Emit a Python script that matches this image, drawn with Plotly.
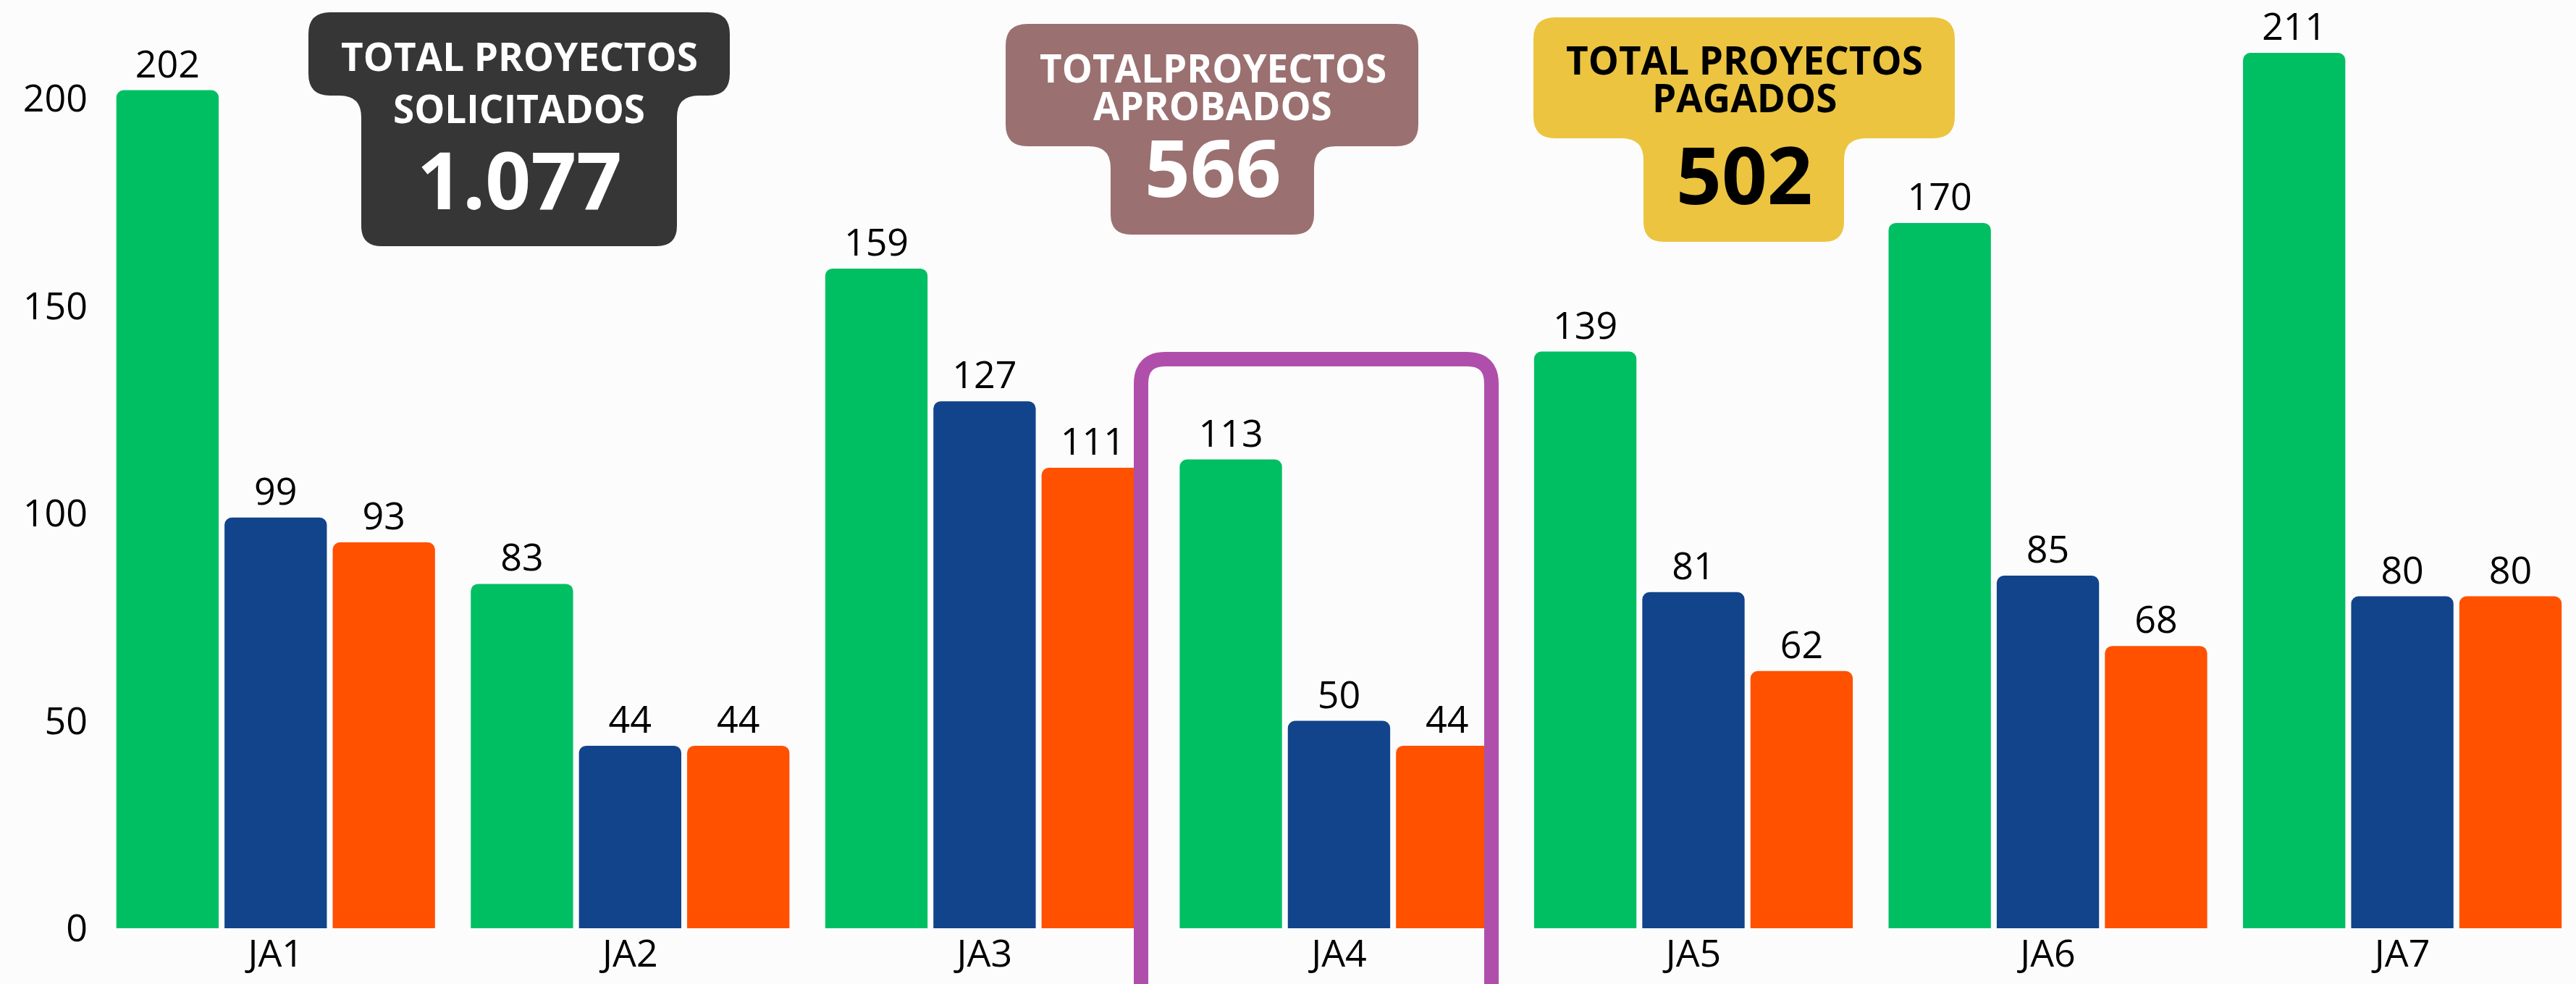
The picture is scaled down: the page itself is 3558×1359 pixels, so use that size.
import plotly.graph_objects as go

# ---------------- data ----------------
categories = ["JA1", "JA2", "JA3", "JA4", "JA5", "JA6", "JA7"]
solicitados = [202, 83, 159, 113, 139, 170, 211]
aprobados = [99, 44, 127, 50, 81, 85, 80]
pagados = [93, 44, 111, 44, 62, 68, 80]
y_ticks = [0, 50, 100, 150, 200]

series_names = ["Solicitados", "Aprobados", "Pagados"]
series_colors = ["#00BF63", "#11448A", "#FF5100"]

W, H = 3558, 1359
L, R, T, B = 136, 3558, 0, 1282
FONT = "Open Sans"


def fmt_thousands(n):
    return f"{n:,}".replace(",", ".")


def px2x(px):
    return (px - L) / (R - L)


def py2y(py):
    return (B - py) / (B - T)


def path_from_px(cmds):
    out = []
    for c in cmds:
        op = c[0]
        pts = c[1:]
        s = op
        s += " ".join(f"{px2x(pts[i]):.5f},{py2y(pts[i+1]):.5f}" for i in range(0, len(pts), 2))
        out.append(s)
    return " ".join(out)


def tee_path(x0, x1, y0, ym, sx0, sx1, y1, r=30, rs=28):
    cmds = [
        ("M", x0 + r, y0),
        ("L", x1 - r, y0), ("Q", x1, y0, x1, y0 + r),
        ("L", x1, ym - r), ("Q", x1, ym, x1 - r, ym),
        ("L", sx1 + r, ym), ("Q", sx1, ym, sx1, ym + r),
        ("L", sx1, y1 - rs), ("Q", sx1, y1, sx1 - rs, y1),
        ("L", sx0 + rs, y1), ("Q", sx0, y1, sx0, y1 - rs),
        ("L", sx0, ym + r), ("Q", sx0, ym, sx0 - r, ym),
        ("L", x0 + r, ym), ("Q", x0, ym, x0, ym - r),
        ("L", x0, y0 + r), ("Q", x0, y0, x0 + r, y0),
    ]
    return path_from_px(cmds) + " Z"


fig = go.Figure()
for name, vals, col in zip(series_names, [solicitados, aprobados, pagados], series_colors):
    fig.add_trace(go.Bar(
        x=categories, y=vals, name=name,
        marker=dict(color=col, cornerradius=10, line=dict(width=0)),
        text=[str(v) for v in vals], textposition="outside",
        textfont=dict(family=FONT, size=52, color="#000000"),
        cliponaxis=False,
    ))

shapes = []
annotations = []

badges = [
    dict(box=(426, 1008, 17, 132, 499, 935, 340), color="#363636", txt="#FFFFFF",
         lines=["TOTAL PROYECTOS", "SOLICITADOS"], ly=[77, 150], total=sum(solicitados), ny=246, cx=717),
    dict(box=(1389, 1959, 33, 202, 1534, 1815, 324), color="#9B7070", txt="#FFFFFF",
         lines=["TOTALPROYECTOS", "APROBADOS"], ly=[93, 145], total=sum(aprobados), ny=229, cx=1675),
    dict(box=(2118, 2700, 24, 191, 2270, 2547, 334), color="#ECC440", txt="#000000",
         lines=["TOTAL PROYECTOS", "PAGADOS"], ly=[82, 134], total=sum(pagados), ny=239, cx=2409),
]

for b in badges:
    shapes.append(dict(type="path", xref="paper", yref="paper", path=tee_path(*b["box"]),
                       fillcolor=b["color"], line=dict(width=0), layer="above"))
    for text, yy in zip(b["lines"], b["ly"]):
        annotations.append(dict(xref="paper", yref="paper", x=px2x(b["cx"]), y=py2y(yy),
                                text=text, showarrow=False, xanchor="center", yanchor="middle",
                                font=dict(family=FONT, size=53, color=b["txt"], weight="bold")))
    annotations.append(dict(xref="paper", yref="paper", x=px2x(b["cx"]), y=py2y(b["ny"]),
                            text=fmt_thousands(b["total"]), showarrow=False,
                            xanchor="center", yanchor="middle",
                            font=dict(family=FONT, size=110, color=b["txt"], weight="bold")))

# purple highlight frame around JA4
frame = [
    ("M", 1576, 1440), ("L", 1576, 530), ("Q", 1576, 496, 1610, 496),
    ("L", 2026, 496), ("Q", 2060, 496, 2060, 530), ("L", 2060, 1440),
]
shapes.append(dict(type="path", xref="paper", yref="paper", path=path_from_px(frame),
                   line=dict(color="#B04FAB", width=20), layer="above"))

fig.update_layout(
    width=W, height=H,
    margin=dict(l=L, r=W - R, t=T, b=H - B, pad=0),
    paper_bgcolor="#FCFCFC", plot_bgcolor="#FCFCFC",
    barmode="group", bargap=0.0845, bargroupgap=0.054,
    showlegend=False,
    font=dict(family=FONT, size=52, color="#000000"),
    shapes=shapes, annotations=annotations,
    xaxis=dict(range=[-0.5, 6.49], showgrid=False, zeroline=False, showline=False,
               ticks="", tickfont=dict(family=FONT, size=52, color="#000000")),
    yaxis=dict(range=[0, (B - T) / 5.73], tickvals=y_ticks, showgrid=False, zeroline=False,
               showline=False, ticks="", tickfont=dict(family=FONT, size=52, color="#000000"),
               ticklabelstandoff=14),
)

fig.write_html("out.html", config={"displayModeBar": False},
               post_script="document.body.style.margin='0';document.body.style.overflow='hidden';")
